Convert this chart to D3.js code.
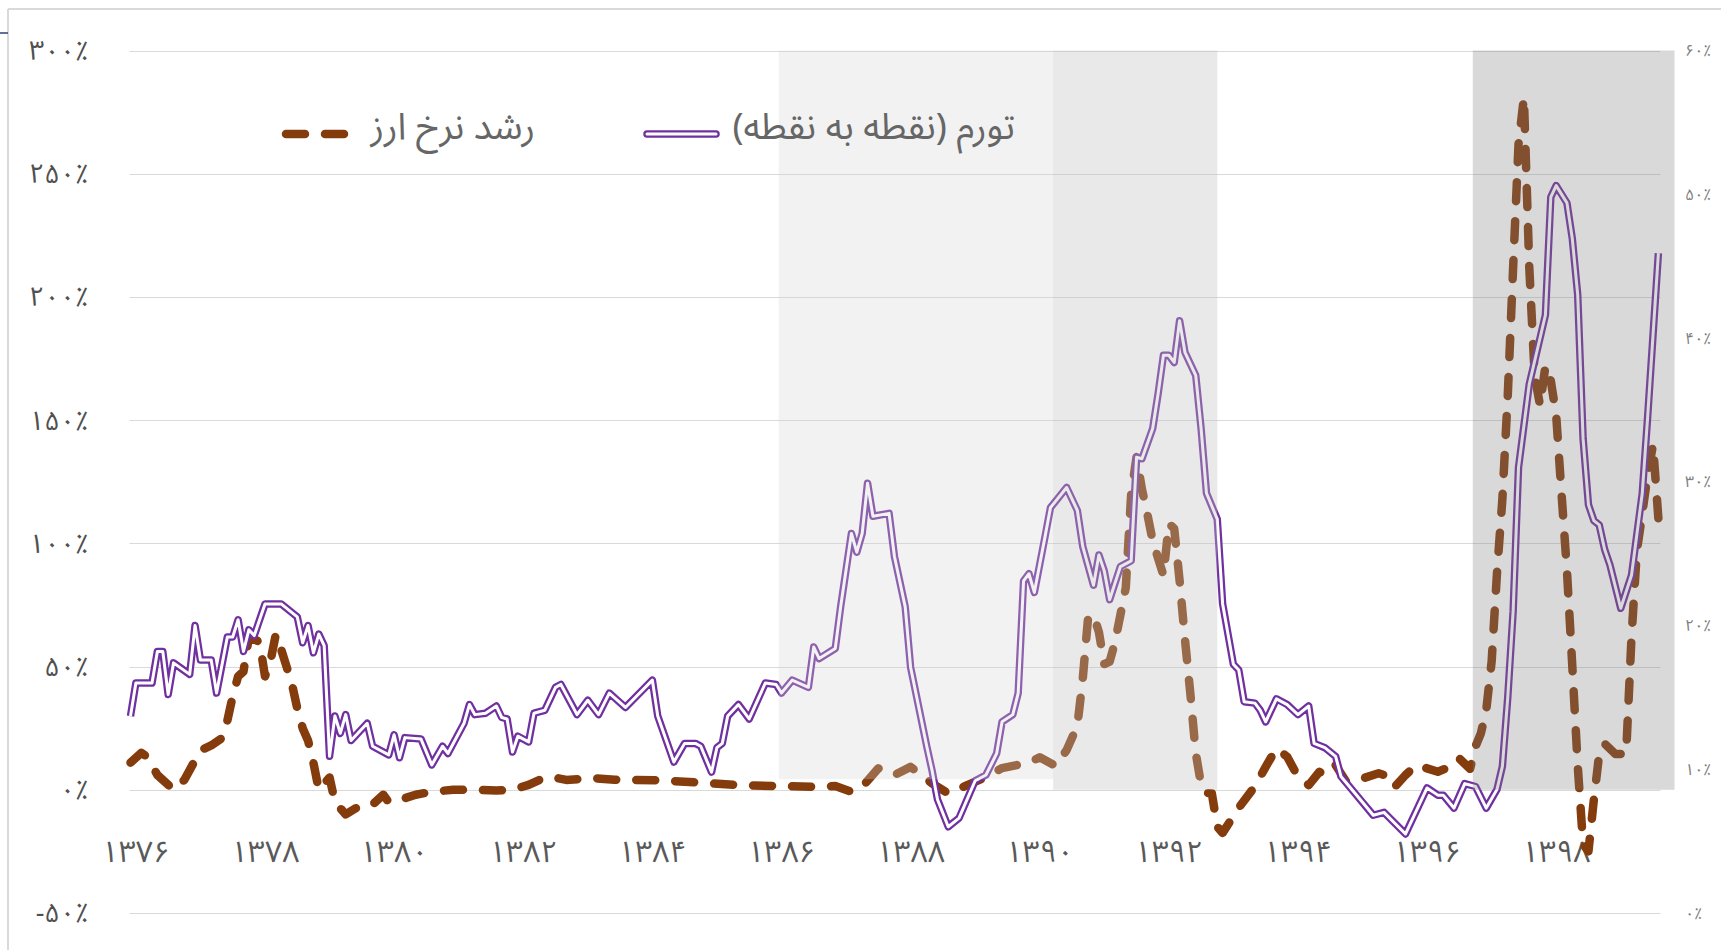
<!DOCTYPE html>
<html>
<head>
<meta charset="utf-8">
<script src="https://cdn.jsdelivr.net/npm/d3@7"></script>
<style>
  html, body { margin: 0; padding: 0; background: #fff; overflow: hidden; }
  svg text { font-family: "Noto Sans Arabic", "DejaVu Sans", sans-serif; }
</style>
</head>
<body>
<div id="chart"></div>
<script>
// month index: 0 = Esfand 1375, 1 = Farvardin 1376, ... (one step per month)
// point-to-point inflation (%), right axis
const inflation = [
  [0,13.7],[1,16.0],[4,16.0],[5,18.2],[6,18.2],[7,15.2],[8,17.4],[11,16.6],[12,20.0],[13,17.6],
  [15,17.6],[16,15.3],[18,19.2],[19,19.2],[20,20.4],[21,18.2],[22,19.7],[23,19.3],[25,21.5],[28,21.5],
  [31,20.6],[32,18.8],[33,20.0],[34,18.1],[35,19.4],[36,18.6],[37,10.9],[38,13.7],[39,12.5],[40,13.8],
  [41,12.0],[44,13.2],[45,11.6],[48,11.0],[49,12.4],[50,10.8],[51,12.2],[54,12.1],[56,10.3],[58,11.6],
  [59,11.1],[62,13.2],[63,14.5],[64,13.8],[66,13.9],[68,14.4],[69,13.6],[70,13.5],[71,11.2],[72,12.3],
  [74,11.9],[75,13.9],[77,14.1],[79,15.7],[80,15.9],[83,13.8],[85,14.8],[87,13.8],[89,15.3],[92,14.3],
  [97,16.2],[98,13.7],[101,10.5],[103,11.8],[105,11.8],[106,11.6],[108,9.8],[109,11.5],[110,11.8],[111,13.7],
  [113,14.5],[115,13.5],[118,16.0],[120,15.9],[121,15.3],[123,16.2],[126,15.7],[127,18.5],[128,17.7],[131,18.4],
  [132,21.3],[134,26.4],[135,25.1],[136,26.4],[137,29.9],[138,27.6],[141,27.8],[142,24.8],[144,21.3],[145,17.1],
  [148,11.6],[149,9.9],[150,7.9],[152,6.0],[154,6.6],[157,9.2],[159,9.6],[161,11.1],[162,13.3],[164,13.8],
  [165,15.3],[166,23.1],[167,23.6],[168,22.3],[170,26.2],[171,28.2],[174,29.6],[176,28.0],[177,25.5],[179,22.8],
  [180,24.9],[181,23.8],[182,21.8],[184,24.1],[186,24.5],[187,31.7],[188,31.6],[190,33.7],[191,36.1],[192,38.8],
  [193,38.8],[194,38.3],[195,41.2],[196,39.0],[198,37.4],[199,33.7],[200,29.2],[202,27.4],[203,21.5],[205,17.3],
  [206,16.9],[207,14.7],[209,14.6],[210,14.1],[211,13.3],[213,14.9],[215,14.5],[217,13.8],[219,14.4],[220,11.8],
  [222,11.5],[224,10.9],[225,9.5],[229,7.7],[231,6.8],[233,7.0],[237,5.5],[241,8.7],[243,8.2],[244,8.2],
  [246,7.3],[248,9.0],[250,8.8],[252,7.3],[254,8.6],[255,10.2],[256,15.0],[257,21.0],[258,31.0],[260,36.8],
  [263,41.6],[264,49.8],[265,50.6],[267,49.4],[268,46.9],[269,43.0],[270,33.0],[271,28.4],[272,27.3],[273,27.0],
  [274,25.3],[275,24.2],[277,21.2],[279,23.5],[281,29.2],[282,34.5],[283,40.2],[284,45.9]
];

// exchange rate growth (%), left axis
const fxGrowth = [
  [0,11],[2,15],[3,13.5],[5,6],[8,0],[10,4],[12,12],[13,16],[15,18],[17,21],
  [18,28],[19,38],[20,46],[21,48],[22,62],[24,60],[25,46],[26,52],[27,63],[28,57],
  [29,50],[30,43],[31,33],[32,25],[33,20],[34,11],[35,0],[37,5],[38,-5],[40,-10],
  [43,-6],[45,-6],[47,-2],[48,-5],[51,-3.4],[53,-2],[56,-0.8],[60,0],[64,0],[68,-0.3],
  [71,0],[74,2],[76,4],[78,5.3],[81,4],[86,4.7],[90,4.1],[98,3.9],[105,3.0],[113,1.9],
  [120,1.5],[128,1.2],[131,1.5],[134,-0.8],[136,1.2],[139,8.7],[142,6.0],[145,9.3],[147,6.0],[149,2.6],
  [152,-1.5],[155,1.4],[158,4.2],[162,8.8],[167,11.0],[169,13.2],[172,9.6],[174,16.1],[176,26],[177,45],
  [178,70],[179,71],[180,64],[181,51],[182,52],[183,60],[184,71],[185,82],[186,120],[187,135],
  [188,122],[189,112],[190,101],[191,94],[192,87],[193,108],[194,106],[195,85],[196,61],[197,39],
  [198,15],[199,2],[200,-1.3],[201,-1.5],[202,-15],[203,-17.5],[206,-7.3],[209,1.4],[211,9.3],[213,16.8],
  [215,13.4],[217,5.3],[219,1.9],[221,7.3],[222,6.0],[224,10.0],[226,3.2],[229,4.6],[232,6.7],[234,5.3],
  [235,1.2],[237,6.0],[239,10.0],[241,8.7],[243,7.3],[246,10.0],[247,12.7],[249,8.5],[250,17.5],[251,22.9],
  [252,32.3],[253,52],[254,88],[255,118],[256,160],[257,212],[258,262],[259,281],[260,212],[261,168],
  [262,156],[263,172],[264,166],[265,152],[266,120],[267,89],[268,50],[269,10],[270,-22],[271,-25],
  [272,-4],[273,14.5],[274,18.7],[276,14.5],[278,14.5],[279,62],[280,97],[281,112],[282,128],[283,140],
  [284,110]
];

const leftTicks = [-50, 0, 50, 100, 150, 200, 250, 300];
const rightTicks = [0, 10, 20, 30, 40, 50, 60];
const yearLabels = [1376, 1378, 1380, 1382, 1384, 1386, 1388, 1390, 1392, 1394, 1396, 1398];

// shaded periods (month index edges, base value on left axis)
const bandStart = [120.5, 171.5, 249.5];
const bandEnd = [171.5, 202, 287];
const bandBase = [4.3, 0, 0];
const bandFill = ['rgba(212,212,212,0.3)', 'rgba(192,192,192,0.35)', 'rgba(128,128,128,0.3)'];

const legendInflation = 'تورم (نقطه به نقطه)';
const legendFx = 'رشد نرخ ارز';

const width = 1721;
const height = 950;

const fa = s => String(s).replace(/\d/g, d => '۰۱۲۳۴۵۶۷۸۹'[d]);
const pct = v => (v < 0 ? '−' + fa(-v) : fa(v)) + '٪';

const svg = d3.select('#chart').append('svg')
    .attr('width', width)
    .attr('height', height);

const x = d3.scaleLinear().domain([0, 284]).range([130.5, 1658.4]);
const yLeft = d3.scaleLinear().domain([-50, 300]).range([913, 50.5]);
const yRight = d3.scaleLinear().domain([0, 60]).range([913, 50.5]);

// frame
svg.append('line').attr('x1', 8).attr('x2', width).attr('y1', 9).attr('y2', 9)
    .attr('stroke', '#d9d9d9').attr('stroke-width', 2);
svg.append('line').attr('x1', 8).attr('x2', 8).attr('y1', 9).attr('y2', height)
    .attr('stroke', '#d9d9d9').attr('stroke-width', 2);
svg.append('line').attr('x1', 0).attr('x2', 8).attr('y1', 33).attr('y2', 33)
    .attr('stroke', '#2f3f73').attr('stroke-width', 1.5);

// gridlines
svg.append('g')
    .selectAll('line')
    .data(leftTicks)
    .enter().append('line')
    .attr('x1', x(0) - 1)
    .attr('x2', x(284) + 2)
    .attr('y1', d => Math.round(yLeft(d)) + 0.5)
    .attr('y2', d => Math.round(yLeft(d)) + 0.5)
    .attr('stroke', '#d9d9d9')
    .attr('stroke-width', 1.2);

// left axis labels
svg.append('g')
    .selectAll('text')
    .data(leftTicks)
    .enter().append('text')
    .attr('x', 88)
    .attr('y', d => yLeft(d))
    .attr('dy', '0.35em')
    .attr('text-anchor', 'end')
    .attr('direction', 'ltr')
    .attr('font-size', 27)
    .attr('fill', '#505050')
    .text(pct);

// right axis labels
svg.append('g')
    .selectAll('text')
    .data(rightTicks)
    .enter().append('text')
    .attr('x', 1685)
    .attr('y', d => yRight(d))
    .attr('dy', '0.35em')
    .attr('text-anchor', 'start')
    .attr('direction', 'ltr')
    .attr('font-size', 16)
    .attr('fill', '#7f7f7f')
    .text(pct);

// year labels
svg.append('g')
    .selectAll('text')
    .data(yearLabels)
    .enter().append('text')
    .attr('x', d => x((d - 1376) * 12 + 1))
    .attr('y', 851)
    .attr('dy', '0.35em')
    .attr('text-anchor', 'middle')
    .attr('font-size', 30)
    .attr('fill', '#595959')
    .text(fa);

const inflLine = d3.line().x(d => x(d[0])).y(d => yRight(d[1]));
const fxLine = d3.line().x(d => x(d[0])).y(d => yLeft(d[1]));

svg.append('path')
    .attr('d', fxLine(fxGrowth))
    .attr('fill', 'none')
    .attr('stroke', '#843c0c')
    .attr('stroke-width', 8.5)
    .attr('stroke-linecap', 'round')
    .attr('stroke-linejoin', 'round')
    .attr('stroke-dasharray', '19 20');

// double (compound) line
svg.append('path')
    .attr('d', inflLine(inflation))
    .attr('fill', 'none')
    .attr('stroke', '#7030a0')
    .attr('stroke-width', 7.5)
    .attr('stroke-linejoin', 'round');
svg.append('path')
    .attr('d', inflLine(inflation))
    .attr('fill', 'none')
    .attr('stroke', '#fff')
    .attr('stroke-width', 3)
    .attr('stroke-linejoin', 'round');

// shaded periods drawn over the lines
svg.append('g')
    .selectAll('rect')
    .data(bandStart)
    .enter().append('rect')
    .attr('x', (d, i) => x(d))
    .attr('width', (d, i) => x(bandEnd[i]) - x(d))
    .attr('y', yLeft(300))
    .attr('height', (d, i) => yLeft(bandBase[i]) - yLeft(300))
    .attr('fill', (d, i) => bandFill[i]);

// legend
const legend = svg.append('g');
legend.append('line')
    .attr('x1', 286).attr('x2', 348).attr('y1', 134).attr('y2', 134)
    .attr('stroke', '#843c0c').attr('stroke-width', 8.5)
    .attr('stroke-linecap', 'round').attr('stroke-dasharray', '19 20');
legend.append('text')
    .attr('x', 535).attr('y', 128)
    .attr('dy', '0.3em')
    .attr('direction', 'rtl')
    .attr('text-anchor', 'start')
    .attr('font-size', 37)
    .attr('fill', '#666')
    .text(legendFx);
legend.append('line')
    .attr('x1', 647).attr('x2', 716).attr('y1', 134).attr('y2', 134)
    .attr('stroke', '#7030a0').attr('stroke-width', 7.5).attr('stroke-linecap', 'round');
legend.append('line')
    .attr('x1', 647).attr('x2', 716).attr('y1', 134).attr('y2', 134)
    .attr('stroke', '#fff').attr('stroke-width', 3).attr('stroke-linecap', 'round');
legend.append('text')
    .attr('x', 1015).attr('y', 128)
    .attr('dy', '0.3em')
    .attr('direction', 'rtl')
    .attr('text-anchor', 'start')
    .attr('font-size', 37)
    .attr('fill', '#666')
    .text(legendInflation);
</script>
</body>
</html>
